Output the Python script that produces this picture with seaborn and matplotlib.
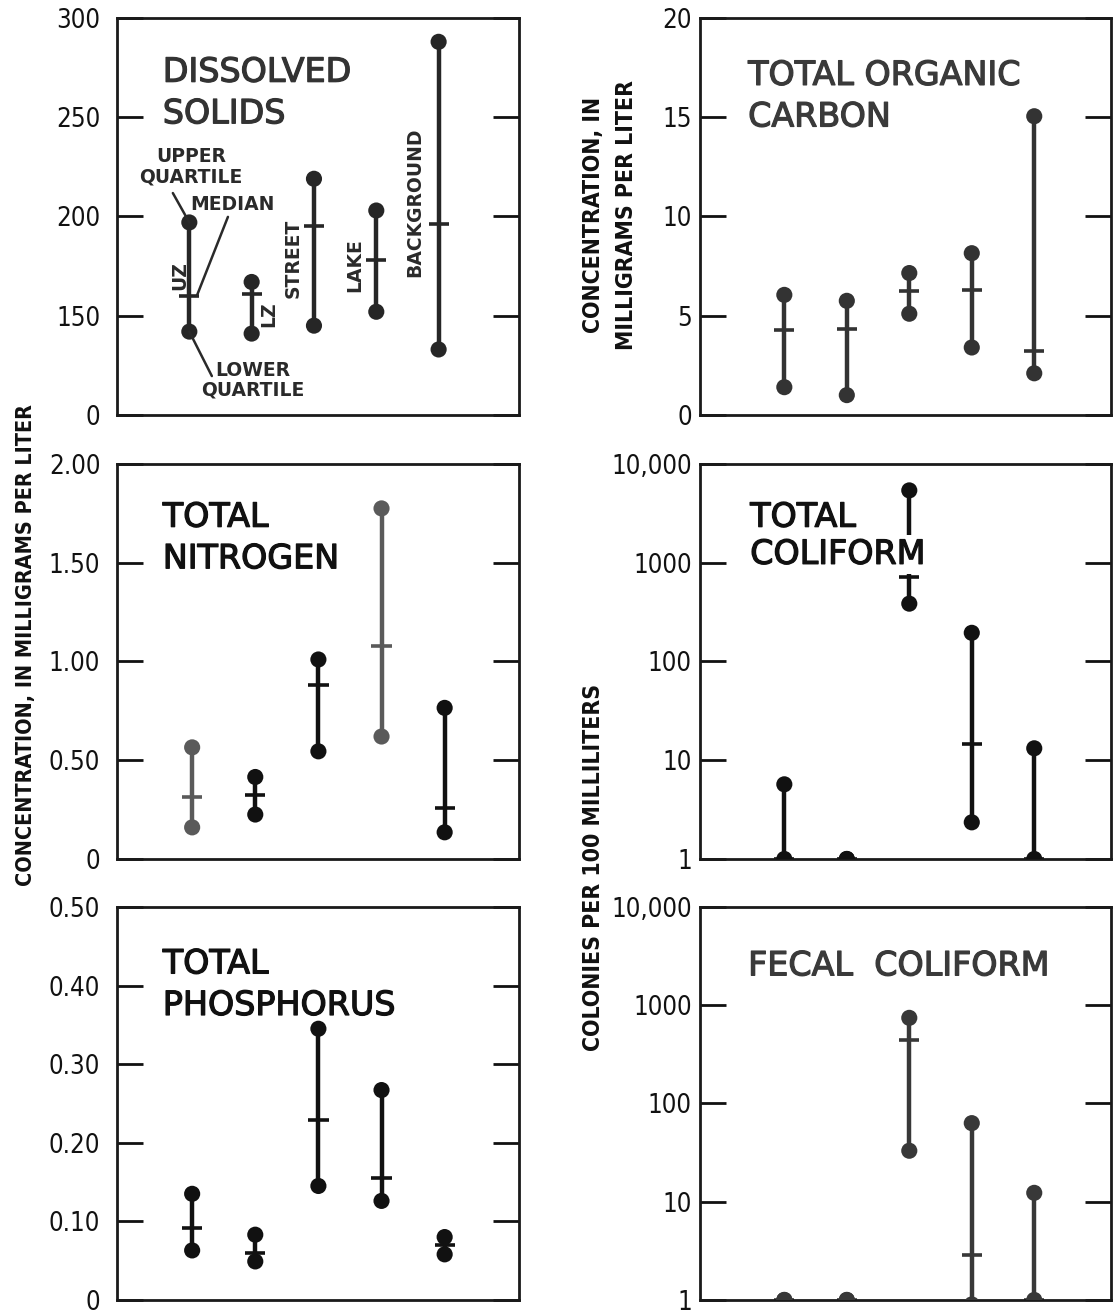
import numpy as np
import pandas as pd
import matplotlib
matplotlib.use("Agg")
import matplotlib.pyplot as plt
import matplotlib.patheffects as pe
import seaborn as sns
from matplotlib.ticker import NullLocator

# ------------------------------
# data
# ------------------------------
sites = ["UZ", "LZ", "STREET", "LAKE", "BACKGROUND"]

solids_lower = [142, 141, 145, 152, 133]
solids_median = [160, 161, 195, 178, 196]
solids_upper = [197, 167, 219, 203, 288]

toc_lower = [1.4, 1.0, 5.1, 3.4, 2.1]
toc_median = [4.3, 4.35, 6.25, 6.3, 3.2]
toc_upper = [6.05, 5.75, 7.15, 8.15, 15.05]

nitrogen_lower = [0.16, 0.225, 0.545, 0.62, 0.135]
nitrogen_median = [0.315, 0.325, 0.88, 1.08, 0.26]
nitrogen_upper = [0.565, 0.415, 1.01, 1.775, 0.765]

coliform_lower = [1, 1, 385, 2.35, 1]
coliform_median = [1, 1, 715, 14.6, 1]
coliform_upper = [5.7, 1, 5400, 195, 13.2]

phosphorus_lower = [0.063, 0.049, 0.145, 0.126, 0.058]
phosphorus_median = [0.091, 0.060, 0.229, 0.155, 0.070]
phosphorus_upper = [0.135, 0.083, 0.345, 0.267, 0.080]

fecal_lower = [1, 1, 33, 0.9, 1]
fecal_median = [1, 1, 440, 2.86, 1]
fecal_upper = [1, 1, 743, 63, 12.3]

# ------------------------------
# style
# ------------------------------
sns.set_style("ticks")
plt.rcParams["font.family"] = ["DejaVu Sans"]
TICKFONT = dict(family=["DejaVu Sans"], stretch="condensed", fontsize=18.5)

fig = plt.figure(figsize=(11.14, 13.14), dpi=100)

L_LEFT, L_W = 0.1050, 0.3609
R_LEFT, R_W = 0.6284, 0.3690
ROWS = [(0.6842, 0.3021), (0.3463, 0.3006), (0.0107, 0.2991)]


def make_ax(col, row):
    left, w = (L_LEFT, L_W) if col == 0 else (R_LEFT, R_W)
    b, h = ROWS[row]
    ax = fig.add_axes([left, b, w, h])
    for s in ax.spines.values():
        s.set_linewidth(2)
        s.set_color("#1a1a1a")
    ax.set_xticks([])
    ax.tick_params(axis="y", direction="in", length=19, width=2,
                   left=True, right=True, labelright=False,
                   pad=12 if col == 0 else 6, colors="#111111")
    if col == 0:
        ax.set_xlim(-1.191, 5.178)
    else:
        ax.set_xlim(-1.349, 5.23)
    return ax


def draw_ranges(ax, lower, median, upper, colors):
    df = pd.DataFrame({"site": sites, "pos": np.arange(len(sites)),
                       "lower": lower, "median": median, "upper": upper})
    pal = dict(zip(sites, colors))
    ax.vlines(df["pos"], df["lower"], df["upper"], colors=colors, lw=3.2, zorder=2)
    ax.hlines(df["median"], df["pos"] - 0.16, df["pos"] + 0.16, colors=colors, lw=2.6, zorder=2)
    ends = pd.concat([df[["site", "pos", "lower"]].rename(columns={"lower": "v"}),
                      df[["site", "pos", "upper"]].rename(columns={"upper": "v"})])
    sns.scatterplot(data=ends, x="pos", y="v", hue="site", palette=pal, s=135,
                    edgecolor="none", legend=False, ax=ax, zorder=3)
    ax.set_xlabel("")
    ax.set_ylabel("")


def set_ticks(ax, ticks, labels):
    ax.set_yticks(ticks)
    ax.set_yticklabels(labels, **TICKFONT)
    ax.yaxis.set_minor_locator(NullLocator())


def title(ax, txt, x, y, color="#222222", **kw):
    return ax.text(x, y, txt, transform=ax.transAxes, ha="left", va="top",
                   fontsize=24, color=color, linespacing=1.33, zorder=5,
                   path_effects=[pe.withStroke(linewidth=0.9, foreground=color)], **kw)


# ------------------------------
# dissolved solids
# ------------------------------
ax1 = make_ax(0, 0)
ax1.set_xlim(-1.161, 5.29)
draw_ranges(ax1, solids_lower, solids_median, solids_upper, ["#262626"] * 5)
ax1.set_ylim(100, 300)
set_ticks(ax1, [100, 150, 200, 250, 300], ["0", "150", "200", "250", "300"])
title(ax1, "DISSOLVED\nSOLIDS", 0.114, 0.905, "#333333")

lab = dict(fontsize=13.5, fontweight="bold", color="#2a2a2a", zorder=5)
ax1.text(0.184, 0.625, "UPPER\nQUARTILE", transform=ax1.transAxes,
         ha="center", va="center", linespacing=1.05, **lab)
ax1.text(0.286, 0.531, "MEDIAN", transform=ax1.transAxes, ha="center", va="center", **lab)
ax1.text(0.338, 0.088, "LOWER\nQUARTILE", transform=ax1.transAxes,
         ha="center", va="center", linespacing=1.05, **lab)
lead = dict(arrowstyle="-", lw=1.8, color="#2a2a2a", shrinkA=0, shrinkB=0)
ax1.annotate("", xy=(0, solids_upper[0]), xytext=(0.139, 0.559),
             textcoords="axes fraction", arrowprops=lead)
ax1.annotate("", xy=(0.12, solids_median[0]), xytext=(0.276, 0.499),
             textcoords="axes fraction", arrowprops=lead)
ax1.annotate("", xy=(0, solids_lower[0]), xytext=(0.236, 0.098),
             textcoords="axes fraction", arrowprops=lead)
site_lab_x = [-0.15, 1.27, 1.66, 2.66, 3.61]
site_lab_y = [170, 151, 179, 175.5, 207]
for sx, sy, name in zip(site_lab_x, site_lab_y, sites):
    ax1.text(sx, sy, name, rotation=90, ha="center", va="center", **lab)

# ------------------------------
# total organic carbon
# ------------------------------
ax2 = make_ax(1, 0)
draw_ranges(ax2, toc_lower, toc_median, toc_upper, ["#333333"] * 5)
ax2.set_ylim(0, 20)
set_ticks(ax2, [0, 5, 10, 15, 20], ["0", "5", "10", "15", "20"])
title(ax2, "TOTAL ORGANIC\nCARBON", 0.117, 0.897, "#3a3a3a")

# ------------------------------
# total nitrogen
# ------------------------------
ax3 = make_ax(0, 1)
draw_ranges(ax3, nitrogen_lower, nitrogen_median, nitrogen_upper,
            ["#5a5a5a", "#111111", "#111111", "#5a5a5a", "#111111"])
ax3.set_ylim(0, 2.0)
set_ticks(ax3, [0, 0.5, 1.0, 1.5, 2.0], ["0", "0.50", "1.00", "1.50", "2.00"])
title(ax3, "TOTAL\nNITROGEN", 0.114, 0.907, "#111111")

# ------------------------------
# total coliform
# ------------------------------
ax4 = make_ax(1, 1)
ax4.set_yscale("log")
draw_ranges(ax4, coliform_lower, coliform_median, coliform_upper, ["#111111"] * 5)
ax4.set_ylim(1, 10000)
set_ticks(ax4, [1, 10, 100, 1000, 10000], ["1", "10", "100", "1000", "10,000"])
title(ax4, "TOTAL", 0.122, 0.907, "#111111")
title(ax4, "COLIFORM", 0.122, 0.813, "#111111",
      bbox=dict(facecolor="white", edgecolor="none", pad=2.5))

# ------------------------------
# total phosphorus
# ------------------------------
ax5 = make_ax(0, 2)
draw_ranges(ax5, phosphorus_lower, phosphorus_median, phosphorus_upper, ["#111111"] * 5)
ax5.set_ylim(0, 0.5)
set_ticks(ax5, [0, 0.1, 0.2, 0.3, 0.4, 0.5], ["0", "0.10", "0.20", "0.30", "0.40", "0.50"])
title(ax5, "TOTAL\nPHOSPHORUS", 0.114, 0.897, "#111111")

# ------------------------------
# fecal coliform
# ------------------------------
ax6 = make_ax(1, 2)
ax6.set_yscale("log")
draw_ranges(ax6, fecal_lower, fecal_median, fecal_upper, ["#383838"] * 5)
ax6.set_ylim(1, 10000)
set_ticks(ax6, [1, 10, 100, 1000, 10000], ["1", "10", "100", "1000", "10,000"])
title(ax6, "FECAL  COLIFORM", 0.117, 0.892, "#3a3a3a")

# ------------------------------
# axis titles
# ------------------------------
yl = dict(family=["DejaVu Sans"], stretch="condensed", fontweight="bold",
          color="#111111", rotation=90, ha="center", va="center")
fig.text(26 / 1114, 1 - 645 / 1314, "CONCENTRATION, IN MILLIGRAMS PER LITER",
         fontsize=15.5, **yl)
fig.text(610 / 1114, 1 - 215 / 1314, "CONCENTRATION, IN\nMILLIGRAMS PER LITER",
         fontsize=16.5, linespacing=1.55, **yl)
fig.text(594 / 1114, 1 - 867 / 1314, "COLONIES PER 100 MILLILITERS",
         fontsize=16.5, **yl)

fig.savefig("out.png", dpi=100, facecolor="white")
